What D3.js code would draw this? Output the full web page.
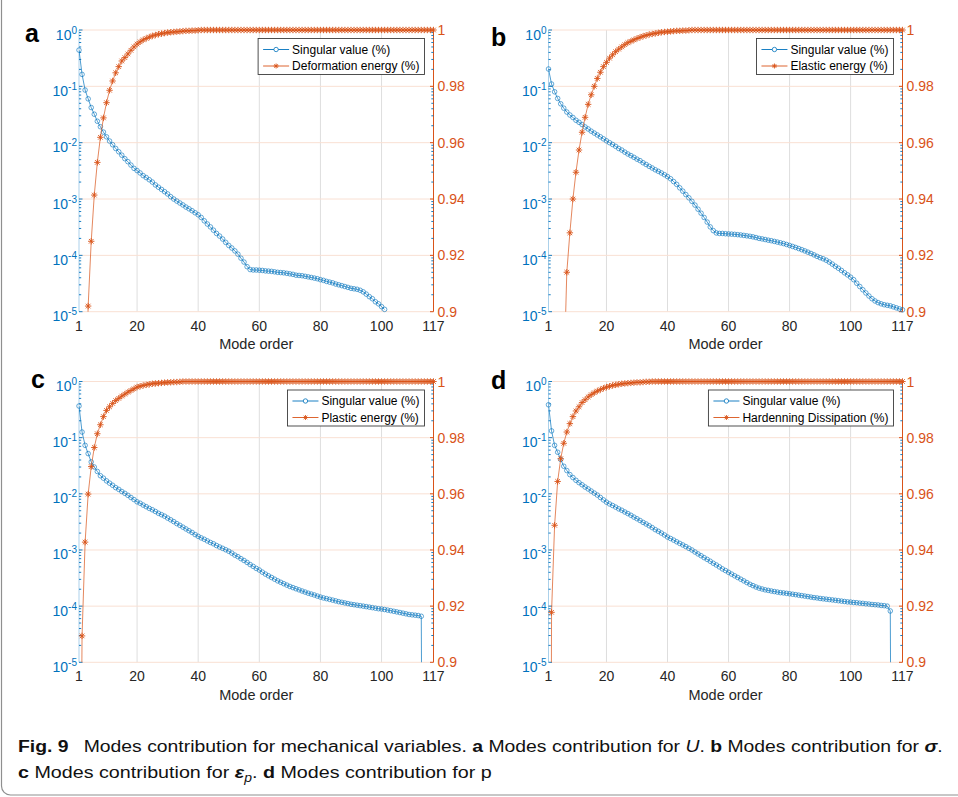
<!DOCTYPE html>
<html><head><meta charset="utf-8">
<script src="https://cdn.jsdelivr.net/npm/d3@7"></script>
<style>body{margin:0;background:#fff}svg{display:block}</style>
</head><body>
<svg id="fig" width="958" height="797"></svg>
<script>
// Axis ticks
const modeTicks = [1, 20, 40, 60, 80, 100, 117];
const decadeTicks = [1e0, 1e-1, 1e-2, 1e-3, 1e-4, 1e-5];
const energyTicks = [0.9, 0.92, 0.94, 0.96, 0.98, 1];
const energyTickLabels = ["0.9", "0.92", "0.94", "0.96", "0.98", "1"];

// (a) displacement U
const svA = [4.4e-1,1.63e-1,8.6e-2,6.0e-2,4.2e-2,3.2e-2,2.4e-2,1.92e-2,1.54e-2,1.27e-2,
1.07e-2,9.2e-3,7.9e-3,6.9e-3,6.0e-3,5.2e-3,4.6e-3,4.0e-3,3.5e-3,3.2e-3,
2.9e-3,2.6e-3,2.4e-3,2.2e-3,2.0e-3,1.78e-3,1.62e-3,1.48e-3,1.35e-3,1.23e-3,
1.1e-3,1.0e-3,9.2e-4,8.5e-4,7.85e-4,7.2e-4,6.7e-4,6.2e-4,5.7e-4,5.25e-4,
4.7e-4,4.1e-4,3.6e-4,3.2e-4,2.8e-4,2.45e-4,2.2e-4,1.95e-4,1.7e-4,1.5e-4,
1.35e-4,1.2e-4,1.05e-4,8.9e-5,7.6e-5,6.3e-5,5.6e-5,5.5e-5,5.5e-5,5.45e-5,
5.4e-5,5.3e-5,5.25e-5,5.2e-5,5.1e-5,5.0e-5,4.95e-5,4.9e-5,4.8e-5,4.7e-5,
4.6e-5,4.45e-5,4.4e-5,4.35e-5,4.25e-5,4.15e-5,4.05e-5,3.95e-5,3.85e-5,3.7e-5,
3.6e-5,3.45e-5,3.35e-5,3.25e-5,3.1e-5,3.0e-5,2.9e-5,2.8e-5,2.7e-5,2.6e-5,
2.55e-5,2.5e-5,2.4e-5,2.25e-5,2.05e-5,1.85e-5,1.7e-5,1.5e-5,1.38e-5,1.23e-5,
1.1e-5];
const enA = [0.55,0.75,0.86,0.902,0.925,0.9414,0.953,0.9619,0.9688,0.9742,
0.9786,0.9819,0.9848,0.987,0.989,0.9902,0.9915,0.9928,0.994,0.995,
0.9958,0.9965,0.997,0.9975,0.9979,0.9982,0.9985,0.9987,0.9989,0.9991,
0.9992,0.9993,0.9994,0.9995,0.9996,0.9997,0.9997,0.9998,0.9998,0.9999,
1,1,1,1,1,1,1,1,1,1,
1,1,1,1,1,1,1,1,1,1,
1,1,1,1,1,1,1,1,1,1,
1,1,1,1,1,1,1,1,1,1,
1,1,1,1,1,1,1,1,1,1,
1,1,1,1,1,1,1,1,1,1,
1,1,1,1,1,1,1,1,1,1,
1,1,1,1,1,1,1];

// (b) stress sigma
const svB = [2.03e-1,1.1e-1,8.0e-2,6.1e-2,4.9e-2,4.1e-2,3.5e-2,3.1e-2,2.8e-2,2.5e-2,
2.3e-2,2.1e-2,1.9e-2,1.75e-2,1.6e-2,1.48e-2,1.37e-2,1.27e-2,1.17e-2,1.08e-2,
1.0e-2,9.3e-3,8.6e-3,7.9e-3,7.4e-3,6.8e-3,6.3e-3,5.9e-3,5.5e-3,5.1e-3,
4.8e-3,4.4e-3,4.1e-3,3.8e-3,3.55e-3,3.3e-3,3.1e-3,2.9e-3,2.7e-3,2.5e-3,
2.29e-3,2.04e-3,1.82e-3,1.58e-3,1.38e-3,1.2e-3,1.05e-3,9.1e-4,7.8e-4,6.6e-4,
5.6e-4,4.7e-4,3.9e-4,3.2e-4,2.75e-4,2.5e-4,2.45e-4,2.45e-4,2.42e-4,2.4e-4,
2.38e-4,2.36e-4,2.33e-4,2.3e-4,2.26e-4,2.22e-4,2.18e-4,2.13e-4,2.07e-4,2.0e-4,
1.96e-4,1.91e-4,1.86e-4,1.82e-4,1.77e-4,1.72e-4,1.67e-4,1.62e-4,1.56e-4,1.5e-4,
1.44e-4,1.38e-4,1.32e-4,1.26e-4,1.2e-4,1.14e-4,1.08e-4,1.02e-4,9.6e-5,9.1e-5,
8.7e-5,8.2e-5,7.6e-5,7.0e-5,6.4e-5,5.9e-5,5.4e-5,4.9e-5,4.5e-5,4.1e-5,
3.7e-5,3.2e-5,2.8e-5,2.45e-5,2.15e-5,1.9e-5,1.7e-5,1.55e-5,1.45e-5,1.38e-5,
1.33e-5,1.3e-5,1.27e-5,1.22e-5,1.17e-5,1.12e-5,1.08e-5];
const enB = [0.35,0.55,0.68,0.77,0.83,0.875,0.914,0.928,0.94,0.9495,
0.9574,0.9637,0.969,0.9736,0.977,0.98,0.9828,0.985,0.987,0.9885,
0.99,0.9912,0.9923,0.9932,0.994,0.9948,0.9955,0.996,0.9965,0.997,
0.9974,0.9978,0.9981,0.9984,0.9986,0.9988,0.999,0.9992,0.9993,0.9994,
0.9995,0.9996,0.9997,0.9997,0.9998,0.9998,0.9999,1,1,1,
1,1,1,1,1,1,1,1,1,1,
1,1,1,1,1,1,1,1,1,1,
1,1,1,1,1,1,1,1,1,1,
1,1,1,1,1,1,1,1,1,1,
1,1,1,1,1,1,1,1,1,1,
1,1,1,1,1,1,1,1,1,1,
1,1,1,1,1,1,1];

// (c) plastic strain
const svC = [3.66e-1,1.26e-1,7.3e-2,5.2e-2,3.7e-2,3.0e-2,2.5e-2,2.1e-2,1.9e-2,1.7e-2,
1.55e-2,1.42e-2,1.29e-2,1.2e-2,1.1e-2,1.02e-2,9.4e-3,8.6e-3,7.9e-3,7.2e-3,
6.8e-3,6.3e-3,5.9e-3,5.5e-3,5.2e-3,4.85e-3,4.5e-3,4.25e-3,4.0e-3,3.7e-3,
3.45e-3,3.2e-3,2.95e-3,2.75e-3,2.55e-3,2.37e-3,2.2e-3,2.05e-3,1.88e-3,1.75e-3,
1.64e-3,1.55e-3,1.45e-3,1.36e-3,1.29e-3,1.2e-3,1.13e-3,1.07e-3,1.01e-3,9.5e-4,
8.8e-4,8.1e-4,7.6e-4,7.0e-4,6.5e-4,6.0e-4,5.5e-4,5.1e-4,4.7e-4,4.4e-4,
4.03e-4,3.72e-4,3.47e-4,3.24e-4,3.02e-4,2.82e-4,2.66e-4,2.51e-4,2.37e-4,2.24e-4,
2.14e-4,2.04e-4,1.95e-4,1.86e-4,1.78e-4,1.7e-4,1.64e-4,1.58e-4,1.51e-4,1.45e-4,
1.4e-4,1.36e-4,1.32e-4,1.28e-4,1.24e-4,1.2e-4,1.17e-4,1.14e-4,1.11e-4,1.08e-4,
1.06e-4,1.04e-4,1.02e-4,1.0e-4,9.8e-5,9.6e-5,9.4e-5,9.2e-5,9.0e-5,8.9e-5,
8.7e-5,8.5e-5,8.3e-5,8.1e-5,7.9e-5,7.7e-5,7.5e-5,7.3e-5,7.1e-5,7.0e-5,
6.9e-5,6.8e-5,6.6e-5,1e-16];
const enC = [0.75,0.9094,0.9428,0.9599,0.9697,0.9765,0.9814,0.9846,0.9875,0.9897,
0.991,0.9922,0.9932,0.994,0.9948,0.9955,0.9962,0.9968,0.9974,0.998,
0.9983,0.9986,0.9988,0.999,0.9992,0.9993,0.9994,0.9995,0.9996,0.9997,
0.9997,0.9998,0.9998,0.9999,1,1,1,1,1,1,
1,1,1,1,1,1,1,1,1,1,
1,1,1,1,1,1,1,1,1,1,
1,1,1,1,1,1,1,1,1,1,
1,1,1,1,1,1,1,1,1,1,
1,1,1,1,1,1,1,1,1,1,
1,1,1,1,1,1,1,1,1,1,
1,1,1,1,1,1,1,1,1,1,
1,1,1,1,1,1,1];

// (d) accumulated plastic strain p
const svD = [3.85e-1,1.32e-1,7.3e-2,5.5e-2,4.1e-2,3.1e-2,2.6e-2,2.2e-2,1.95e-2,1.74e-2,
1.58e-2,1.45e-2,1.32e-2,1.22e-2,1.12e-2,1.03e-2,9.5e-3,8.6e-3,7.8e-3,7.1e-3,
6.6e-3,6.2e-3,5.8e-3,5.4e-3,5.1e-3,4.75e-3,4.45e-3,4.15e-3,3.85e-3,3.6e-3,
3.35e-3,3.1e-3,2.9e-3,2.7e-3,2.5e-3,2.3e-3,2.15e-3,2.0e-3,1.85e-3,1.7e-3,
1.6e-3,1.5e-3,1.4e-3,1.31e-3,1.23e-3,1.15e-3,1.07e-3,1.0e-3,9.2e-4,8.5e-4,
7.9e-4,7.3e-4,6.8e-4,6.3e-4,5.8e-4,5.4e-4,5.0e-4,4.6e-4,4.3e-4,4.0e-4,
3.72e-4,3.47e-4,3.24e-4,3.02e-4,2.82e-4,2.63e-4,2.45e-4,2.32e-4,2.19e-4,2.09e-4,
2.02e-4,1.95e-4,1.91e-4,1.86e-4,1.82e-4,1.78e-4,1.74e-4,1.72e-4,1.69e-4,1.66e-4,
1.63e-4,1.6e-4,1.57e-4,1.54e-4,1.51e-4,1.48e-4,1.45e-4,1.42e-4,1.4e-4,1.37e-4,
1.35e-4,1.33e-4,1.31e-4,1.29e-4,1.27e-4,1.25e-4,1.23e-4,1.21e-4,1.19e-4,1.18e-4,
1.16e-4,1.15e-4,1.13e-4,1.12e-4,1.1e-4,1.09e-4,1.07e-4,1.06e-4,1.05e-4,1.03e-4,
1.02e-4,1.0e-4,8.2e-5,1e-16];
const enD = [0.5,0.9178,0.9488,0.9644,0.9725,0.978,0.982,0.985,0.9875,0.9895,
0.991,0.9925,0.9935,0.9945,0.9953,0.996,0.9966,0.9971,0.9976,0.998,
0.9983,0.9986,0.9988,0.999,0.9992,0.9993,0.9994,0.9995,0.9996,0.9997,
0.9997,0.9998,0.9999,0.9999,1,1,1,1,1,1,
1,1,1,1,1,1,1,1,1,1,
1,1,1,1,1,1,1,1,1,1,
1,1,1,1,1,1,1,1,1,1,
1,1,1,1,1,1,1,1,1,1,
1,1,1,1,1,1,1,1,1,1,
1,1,1,1,1,1,1,1,1,1,
1,1,1,1,1,1,1,1,1,1,
1,1,1,1,1,1,1];

const seriesNames = ["Singular value (%)"];
const energyNames = ["Deformation energy (%)", "Elastic energy (%)", "Plastic energy (%)", "Hardenning Dissipation (%)"];
const panelLetters = ["a", "b", "c", "d"];

const BLUE = "#0072BD", ORANGE = "#D95319";
const FONT = "'Liberation Sans', Arial, Helvetica, sans-serif";

const layout = [
  {left: 79, right: 433.5, top: 30, bottom: 311.7, lx: 25, ly: 42},
  {left: 548.5, right: 902.5, top: 30, bottom: 311.7, lx: 491, ly: 46},
  {left: 79, right: 433.5, top: 381.5, bottom: 662.3, lx: 31, ly: 388},
  {left: 548.5, right: 902.5, top: 381.5, bottom: 662.3, lx: 491, ly: 389}
];
const svData = [svA, svB, svC, svD];
const enData = [enA, enB, enC, enD];

const svg = d3.select("#fig");

// outer frame
svg.append("rect").attr("x", 1.5).attr("y", -20).attr("width", 990).attr("height", 815)
  .attr("rx", 9).attr("fill", "none").attr("stroke", "#8f8f8f").attr("stroke-width", 1.2);

const starPath = "M-3.2,0H3.2M0,-3.2V3.2M-2.3,-2.3L2.3,2.3M-2.3,2.3L2.3,-2.3";

layout.forEach((p, k) => {
  const sv = svData[k], en = enData[k];
  const g = svg.append("g");
  const x = d3.scaleLinear().domain([1, 117]).range([p.left, p.right]);
  const yL = d3.scaleLog().domain([1e-5, 1]).range([p.bottom, p.top]);
  const yR = d3.scaleLinear().domain([0.9, 1]).range([p.bottom, p.top]);

  const clipId = "clip" + k;
  svg.append("clipPath").attr("id", clipId).append("rect")
    .attr("x", p.left).attr("y", p.top).attr("width", p.right - p.left).attr("height", p.bottom - p.top);

  // grid
  g.append("g").selectAll("line").data(modeTicks.filter(t => t > 1 && t < 117)).join("line")
    .attr("x1", d => x(d)).attr("x2", d => x(d)).attr("y1", p.top).attr("y2", p.bottom)
    .attr("stroke", "#dedede").attr("stroke-width", 1);
  g.append("g").selectAll("line").data(energyTicks).join("line")
    .attr("x1", p.left).attr("x2", p.right).attr("y1", d => yR(d)).attr("y2", d => yR(d))
    .attr("stroke", "#f9e0d3").attr("stroke-width", 1);

  // left log axis
  const minor = [];
  for (let e = -5; e < 0; e++) for (let m = 2; m <= 9; m++) minor.push(m * Math.pow(10, e));
  g.append("line").attr("x1", p.left).attr("x2", p.left).attr("y1", p.top).attr("y2", p.bottom)
    .attr("stroke", BLUE).attr("stroke-width", 0.6).attr("stroke-opacity", 0.55);
  g.append("g").selectAll("line").data(minor).join("line")
    .attr("x1", p.left).attr("x2", p.left + 2.2).attr("y1", d => yL(d)).attr("y2", d => yL(d))
    .attr("stroke", BLUE).attr("stroke-width", 0.9);
  g.append("g").selectAll("line").data(decadeTicks).join("line")
    .attr("x1", p.left).attr("x2", p.left + 3.5).attr("y1", d => yL(d)).attr("y2", d => yL(d))
    .attr("stroke", BLUE).attr("stroke-width", 0.9);
  const yl = g.append("g").selectAll("text").data(decadeTicks).join("text")
    .attr("x", p.left - 2).attr("y", d => yL(d) + 9.5)
    .attr("text-anchor", "end").attr("fill", BLUE)
    .style("font-family", FONT).style("font-size", "14px");
  yl.append("tspan").text("10");
  yl.append("tspan").attr("dy", -6).style("font-size", "10px").text(d => String(Math.round(Math.log10(d))));

  // right linear axis
  g.append("line").attr("x1", p.right).attr("x2", p.right).attr("y1", p.top).attr("y2", p.bottom)
    .attr("stroke", ORANGE).attr("stroke-width", 1);
  g.append("g").selectAll("line").data(minor).join("line")
    .attr("x1", p.right).attr("x2", p.right - 2.2).attr("y1", d => yL(d)).attr("y2", d => yL(d))
    .attr("stroke", BLUE).attr("stroke-width", 0.9);
  g.append("g").selectAll("line").data(energyTicks).join("line")
    .attr("x1", p.right).attr("x2", p.right - 3.5).attr("y1", d => yR(d)).attr("y2", d => yR(d))
    .attr("stroke", ORANGE).attr("stroke-width", 1);
  g.append("g").selectAll("text").data(energyTicks).join("text")
    .attr("x", p.right + 4).attr("y", (d) => yR(d) + 5)
    .attr("fill", ORANGE).style("font-family", FONT).style("font-size", "14px")
    .text((d, i) => energyTickLabels[i]);

  // x axis labels
  g.append("g").selectAll("text").data(modeTicks).join("text")
    .attr("x", d => x(d)).attr("y", p.bottom + 19).attr("text-anchor", "middle")
    .attr("fill", "#262626").style("font-family", FONT).style("font-size", "14px").text(d => d);
  g.append("text").attr("x", (p.left + p.right) / 2).attr("y", p.bottom + 37.5)
    .attr("text-anchor", "middle").attr("fill", "#262626")
    .style("font-family", FONT).style("font-size", "14.5px").text("Mode order");

  // singular values (left axis)
  const lineL = d3.line().x((d, i) => x(i + 1)).y(d => yL(d));
  g.append("path").datum(sv).attr("d", lineL).attr("clip-path", `url(#${clipId})`)
    .attr("fill", "none").attr("stroke", BLUE).attr("stroke-width", 0.7);
  g.append("g").selectAll("circle").data(sv.map((v, i) => [i + 1, v]).filter(d => d[1] >= 1e-5)).join("circle")
    .attr("cx", d => x(d[0])).attr("cy", d => yL(d[1])).attr("r", 2.3)
    .attr("fill", "none").attr("stroke", BLUE).attr("stroke-width", 0.75).attr("stroke-opacity", 0.8);

  // cumulative energy (right axis)
  const lineR = d3.line().x((d, i) => x(i + 1)).y(d => yR(d));
  g.append("path").datum(en).attr("d", lineR).attr("clip-path", `url(#${clipId})`)
    .attr("fill", "none").attr("stroke", ORANGE).attr("stroke-width", 0.7);
  g.append("g").selectAll("path").data(en.map((v, i) => [i + 1, v]).filter(d => d[1] >= 0.9)).join("path")
    .attr("transform", d => `translate(${x(d[0])},${yR(d[1])})`).attr("d", starPath)
    .attr("fill", "none").attr("stroke", ORANGE).attr("stroke-width", 0.9);

  // legend
  const lg = g.append("g");
  const box = lg.append("rect").attr("fill", "#fff").attr("stroke", "#3c3c3c").attr("stroke-width", 0.9);
  const rows = [{name: seriesNames[0], c: BLUE, m: "o"}, {name: energyNames[k], c: ORANGE, m: "*"}];
  const texts = rows.map((r, i) => lg.append("text").attr("y", 0).attr("fill", "#000")
    .style("font-family", FONT).style("font-size", "12px").text(r.name));
  const tw = d3.max(texts, t => t.node().getComputedTextLength());
  const bw = 5 + 26 + 3 + tw + 5, bh = 36;
  const bx = p.right - 9 - bw, by = p.top + 8.5;
  box.attr("x", bx).attr("y", by).attr("width", bw).attr("height", bh);
  rows.forEach((r, i) => {
    const cy = by + 11 + i * 16.5;
    lg.append("line").attr("x1", bx + 5).attr("x2", bx + 31).attr("y1", cy).attr("y2", cy)
      .attr("stroke", r.c).attr("stroke-width", 0.9);
    if (r.m === "o") lg.append("circle").attr("cx", bx + 18).attr("cy", cy).attr("r", 2.2)
      .attr("fill", "#fff").attr("stroke", r.c).attr("stroke-width", 0.8);
    else lg.append("path").attr("d", "M-2.5,0H2.5M0,-2.5V2.5M-1.8,-1.8L1.8,1.8M-1.8,1.8L1.8,-1.8")
      .attr("transform", `translate(${bx + 18},${cy})`).attr("fill", "none").attr("stroke", r.c).attr("stroke-width", 0.9);
    texts[i].attr("x", bx + 34).attr("y", cy + 4.3);
  });

  // panel letter
  svg.append("text").attr("x", p.lx).attr("y", p.ly).attr("fill", "#000")
    .style("font-family", "'Liberation Sans', Arial, sans-serif").style("font-weight", "bold").style("font-size", "25px")
    .text(panelLetters[k]);
});

// caption
const CAPFONT = "'Liberation Sans Narrow', 'Liberation Sans', Arial, sans-serif";
function capLine(y, width, parts) {
  const t = svg.append("text").attr("x", 0).attr("y", 0).attr("fill", "#111")
    .style("font-family", CAPFONT).style("font-size", "17px");
  parts.forEach(pt => {
    const s = t.append("tspan").text(pt.t);
    if (pt.b) s.style("font-weight", "bold");
    if (pt.i) s.style("font-style", "italic");
    if (pt.sub) s.attr("dy", 4).style("font-size", "12px");
    if (pt.up) s.attr("dy", -4);
  });
  const w = t.node().getComputedTextLength();
  t.attr("transform", `translate(18,${y}) scale(${width / w},1)`);
}
capLine(752, 925, [
  {t: "Fig. 9", b: true}, {t: "\u2002 Modes contribution for mechanical variables. "},
  {t: "a", b: true}, {t: " Modes contribution for "}, {t: "U", i: true}, {t: ". "},
  {t: "b", b: true}, {t: " Modes contribution for "}, {t: "\u03c3", b: true, i: true}, {t: "."}
]);
capLine(778, 474, [
  {t: "c", b: true}, {t: " Modes contribution for "}, {t: "\u03b5", b: true, i: true},
  {t: "p", i: true, sub: true}, {t: ". ", up: true}, {t: "d", b: true}, {t: " Modes contribution for p"}
]);
</script>
</body></html>
